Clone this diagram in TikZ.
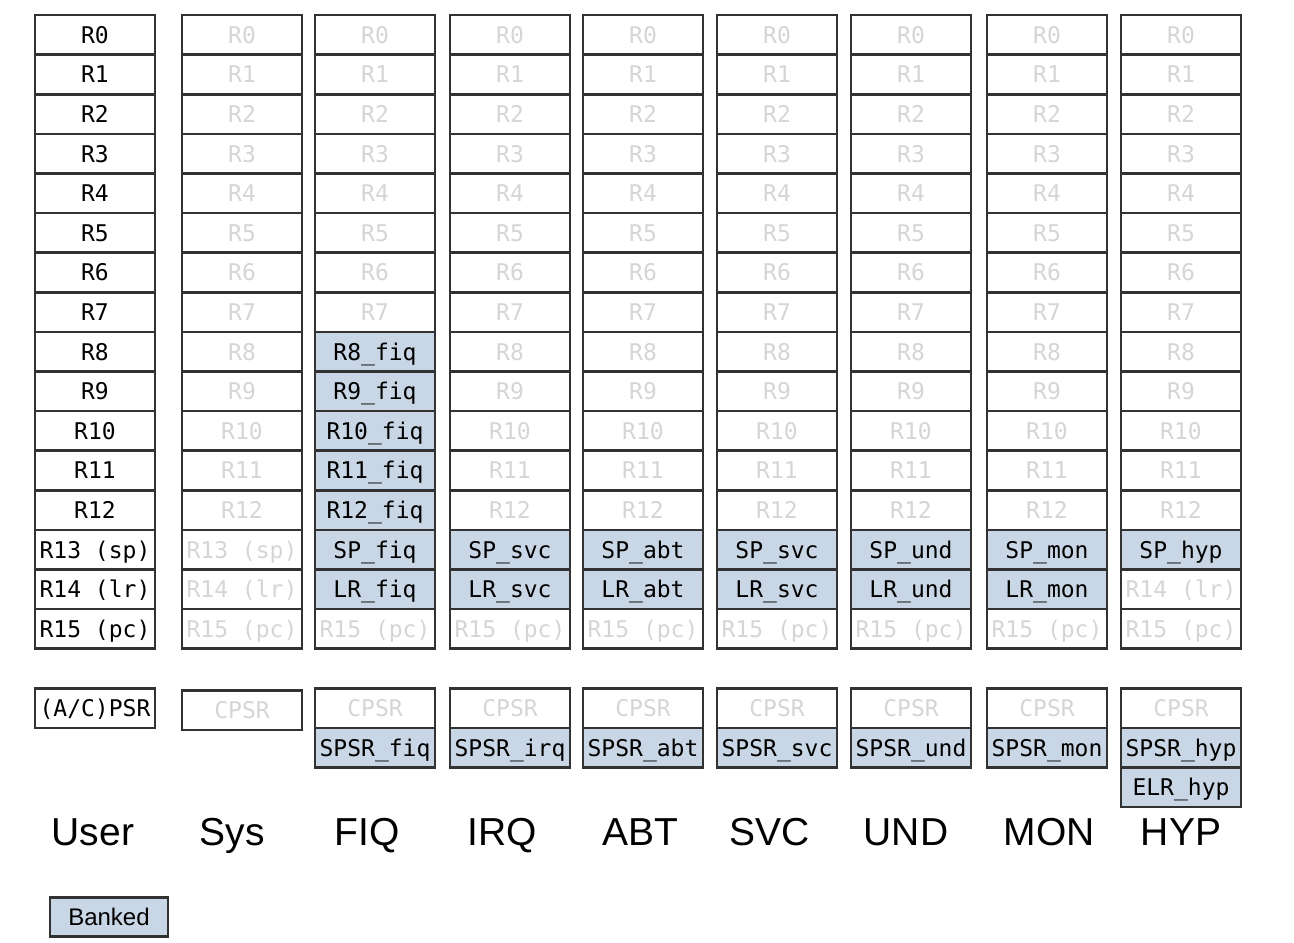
\documentclass[tikz,border=0pt]{standalone}
\usepackage{fontspec}
\setmainfont{Liberation Sans}
\setmonofont{DejaVu Sans Mono}
\usetikzlibrary{positioning}
\definecolor{bankblue}{RGB}{201,214,229}
\definecolor{boxline}{RGB}{50,50,50}
\definecolor{ghosttext}{RGB}{215,213,212}

\begin{document}
\begin{tikzpicture}[
    x=0.5pt,y=-0.5pt,
    cell/.style={draw=boxline,line width=1.3pt,minimum width=60pt,
                 minimum height=19.8pt,inner sep=0pt,outer sep=0pt,
                 text height=8.7pt,text depth=0.3pt,
                 font=\ttfamily\fontsize{11.5}{12}\selectfont},
    ghost/.style={cell,text=ghosttext},
    banked/.style={cell,fill=bankblue},
    mode/.style={anchor=base,font=\fontsize{19.5}{20}\selectfont}]
\useasboundingbox (0,0) rectangle (1294,942);
\foreach \r/\t in {0/R0,1/R1,2/R2,3/R3,4/R4,5/R5,6/R6,7/R7,8/R8,9/R9,
                   10/R10,11/R11,12/R12,13/R13 (sp),14/R14 (lr),15/R15 (pc)}
  \node[cell] (usr-\r) at (95,{34.8+39.6*\r}) {\t};
\foreach \m/\x/\top in {sys/242/12,fiq/375/7,irq/510/12,abt/643/12,
                        svc/777/12,und/911/12,mon/1047/12,hyp/1181/12}
{
  \foreach \r in {0,...,\top}
    \node[ghost] (\m-\r) at (\x,{34.8+39.6*\r}) {R\r};
  \node[ghost] (\m-15) at (\x,{34.8+39.6*15}) {R15 (pc)};
}
\node[ghost] (sys-13) at (242,{34.8+39.6*13}) {R13 (sp)};
\node[ghost] (sys-14) at (242,{34.8+39.6*14}) {R14 (lr)};
\foreach \r in {8,...,12}
  \node[banked] (fiq-\r) at (375,{34.8+39.6*\r}) {R\r\_fiq};
\foreach \m/\x/\s in {fiq/375/fiq,irq/510/svc,abt/643/abt,svc/777/svc,
                      und/911/und,mon/1047/mon}
{
  \node[banked] (\m-13) at (\x,{34.8+39.6*13}) {SP\_\s};
  \node[banked] (\m-14) at (\x,{34.8+39.6*14}) {LR\_\s};
}
\node[banked] (hyp-13) at (1181,{34.8+39.6*13}) {SP\_hyp};
\node[ghost]  (hyp-14) at (1181,{34.8+39.6*14}) {R14 (lr)};

\node[cell]  (usr-psr) at (95,708) {(A/C)PSR};
\node[ghost] (sys-psr) at (242,710) {CPSR};
\foreach \m/\x in {fiq/375,irq/510,abt/643,svc/777,und/911,mon/1047,hyp/1181}
{
  \node[ghost]  (\m-psr) at (\x,708) {CPSR};
  \node[banked] (\m-spsr) [below=0pt of \m-psr] {SPSR\_\m};
}
\node[banked] (hyp-elr) [below=0pt of hyp-spsr] {ELR\_hyp};

\foreach \m/\x/\t in {usr/93/User,sys/232/Sys,fiq/367/FIQ,irq/502/IRQ,
                      abt/640/ABT,svc/770/SVC,und/906/UND,mon/1049/MON,hyp/1181/HYP}
  \node[mode] (\m-name) at (\x,845) {\t};

\node[banked,minimum width=59pt,minimum height=19.5pt,
      font=\fontsize{12}{12}\selectfont] (key) at (109,917) {Banked};
\end{tikzpicture}
\end{document}
